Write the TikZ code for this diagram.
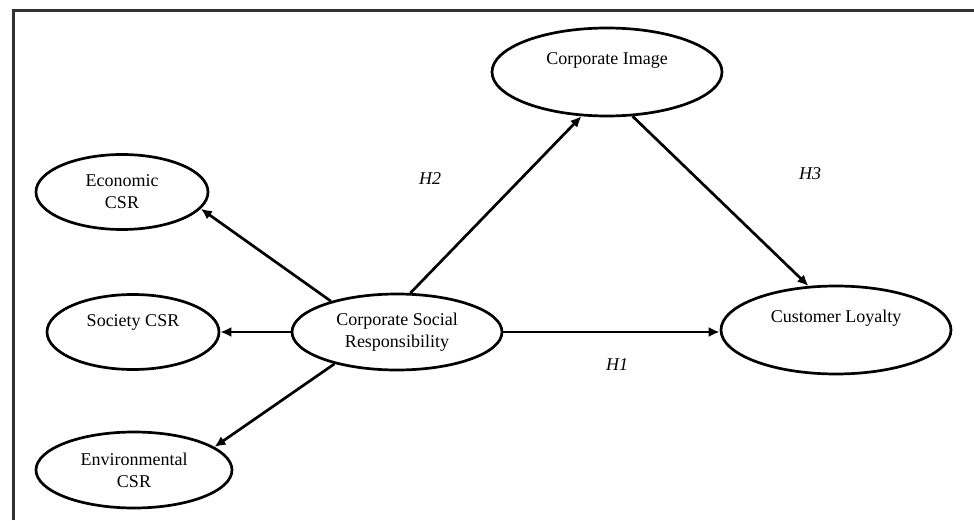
\documentclass[tikz,border=0pt]{standalone}
\usepackage{fontspec}
\setmainfont{Liberation Serif}
\usetikzlibrary{arrows.meta, positioning, shapes.geometric}
\definecolor{framegray}{RGB}{50,50,50}

\begin{document}
\begin{tikzpicture}[x=0.5pt, y=0.5pt,
    construct/.style={ellipse, draw, line width=1.35pt, inner sep=0pt, align=center, font=\fontsize{9}{11}\selectfont},
    path/.style={line width=1.35pt, -{Latex[length=5.5pt, width=5pt]}},
    hyp/.style={font=\fontsize{9}{11}\selectfont\itshape}]
    \useasboundingbox (0,0) rectangle (974,520);
    % frame, left and top only
    \draw[framegray, line width=1.5pt] (13,0) -- (13,509.5) -- (974,509.5);
    % constructs
    \node[construct, minimum width=105pt, minimum height=38pt] (csr) at (397,188) {Corporate Social\\Responsibility};
    \node[construct, minimum width=86pt, minimum height=37.5pt] (econ) at (122,328) {Economic\\CSR};
    \node[construct, minimum width=86pt, minimum height=37.5pt] (soc) at (133,188) {Society CSR\\\mbox{}};
    \node[construct, minimum width=98pt, minimum height=38pt] (env) at (134,50) {Environmental\\CSR};
    \node[construct, minimum width=115pt, minimum height=44pt] (img) at (607,448) {Corporate Image\\[2pt]\mbox{}};
    \node[construct, minimum width=115pt, minimum height=44pt] (loy) at (836,190) {Customer Loyalty\\[3pt]\mbox{}};
    % dimensions of CSR
    \draw[path] (csr.155) -- (econ.-12);
    \draw[path] (csr.west) -- (soc.east);
    \draw[path] (csr.207) -- (env.16);
    % hypotheses
    \draw[path] (csr.71) -- (img.240);
    \draw[path] (img.-60) -- (loy.122);
    \draw[path] (csr.east) -- (csr.east -| loy.west);
    \node[hyp] (h1) at (617,155) {H1};
    \node[hyp] (h2) at (430,341) {H2};
    \node[hyp] (h3) at (810,346) {H3};
\end{tikzpicture}
\end{document}
